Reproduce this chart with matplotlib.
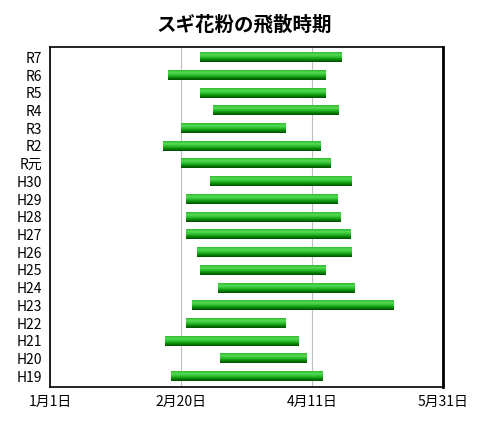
import matplotlib.pyplot as plt
import numpy as np
from matplotlib.colors import LinearSegmentedColormap

plt.rcParams['font.family'] = ['Noto Sans CJK JP', 'DejaVu Sans']

# seasons, bottom to top; start/end as day offset from Jan 1
labels = ['H19', 'H20', 'H21', 'H22', 'H23', 'H24', 'H25', 'H26', 'H27', 'H28',
          'H29', 'H30', 'R元', 'R2', 'R3', 'R4', 'R5', 'R6', 'R7']
start = [46, 65, 44, 52, 54, 64, 57, 56, 52, 52, 52, 61, 50, 43, 50, 62, 57, 45, 57]
end = [104, 98, 95, 90, 131, 116, 105, 115, 115, 111, 110, 115, 107, 103, 90, 110, 105, 105, 111]
xticks = [0, 50, 100, 150]
xticklabels = ['1月1日', '2月20日', '4月11日', '5月31日']

fig = plt.figure(figsize=(4.88, 4.28), dpi=100)
ax = fig.add_axes([0.103, 0.096, 0.805, 0.795])

# top bright, bottom dark green
cmap = LinearSegmentedColormap.from_list('g', ['#004d00', '#0a8a0a', '#2fc02f', '#55dd55', '#2fb82f'])
grad = np.linspace(0, 1, 64).reshape(-1, 1)
h = 0.55
for i, (s, e) in enumerate(zip(start, end)):
    ax.imshow(grad, cmap=cmap, aspect='auto', origin='lower',
              extent=(s, e, i - h / 2, i + h / 2), interpolation='bilinear', zorder=2)

ax.set_xlim(0, 150)
ax.set_ylim(-0.6, len(labels) - 0.4)
ax.set_xticks(xticks)
ax.set_xticklabels(xticklabels, fontsize=10)
ax.set_yticks(range(len(labels)))
ax.set_yticklabels(labels, fontsize=10)
ax.tick_params(length=0, pad=6)
ax.xaxis.grid(True, color='#c0c0c0', linewidth=0.8, zorder=0)
ax.set_axisbelow(True)
for sp in ax.spines.values():
    sp.set_color('black')
    sp.set_linewidth(1.2)
ax.spines['right'].set_linewidth(2)
fig.suptitle('スギ花粉の飛散時期', fontsize=14, fontweight='bold', y=0.965)
fig.savefig('out.png', dpi=100)
